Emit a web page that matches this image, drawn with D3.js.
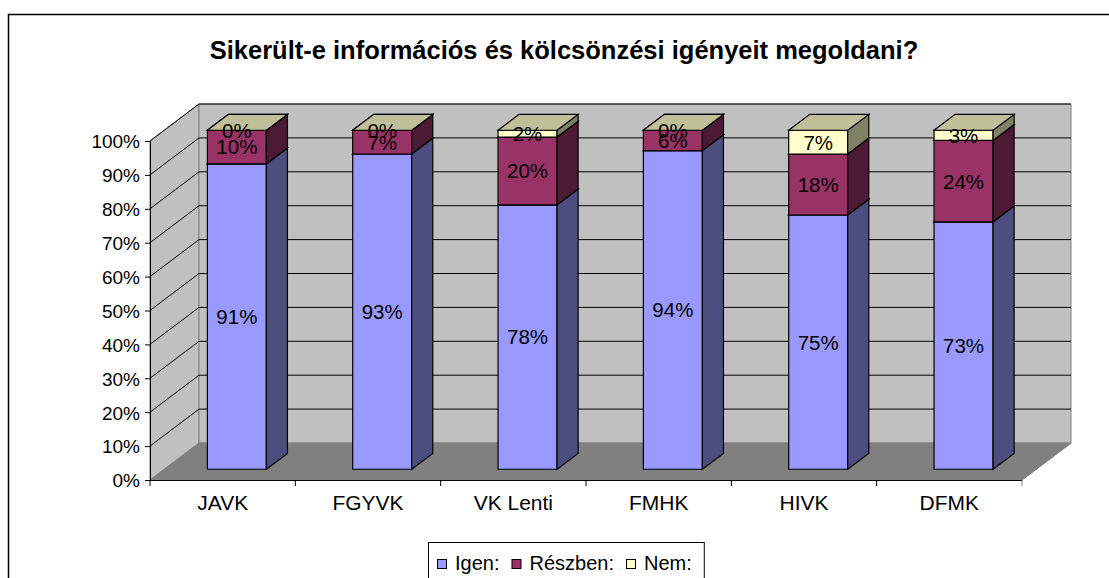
<!DOCTYPE html>
<html>
<head>
<meta charset="utf-8">
<script src="https://cdn.jsdelivr.net/npm/d3@7"></script>
<style>
  body { margin: 0; background: #fff; }
  svg { display: block; font-family: "Liberation Sans", Arial, sans-serif; }
</style>
</head>
<body>
<svg id="chart" width="1109" height="578"></svg>
<script>
// data
const categories = ['JAVK', 'FGYVK', 'VK Lenti', 'FMHK', 'HIVK', 'DFMK'];
const igen = [91, 93, 78, 94, 75, 73];
const reszben = [10, 7, 20, 6, 18, 24];
const nem = [0, 0, 2, 0, 7, 3];
const seriesNames = ['Igen:', 'Részben:', 'Nem:'];
const yTicks = [0, 0.1, 0.2, 0.3, 0.4, 0.5, 0.6, 0.7, 0.8, 0.9, 1];
const title = 'Sikerült-e információs és kölcsönzési igényeit megoldani?';

const front = ['#9999ff', '#993366', '#ffffcc'];
const side = ['#4d4d80', '#4d1a33', '#808066'];
const top_ = ['#7373bf', '#73264d', '#bfbf99'];

const svg = d3.select('#chart');
const left = 150, right = 1022, bottom = 480, topY = 141;
const depthX = 49, depthY = 37; // offset of the back wall
const z0 = 0.29, z1 = 0.72;     // bar depth within the floor

const x = d3.scaleBand().domain(categories).range([left, right]);
const y = d3.scaleLinear().domain([0, 1]).range([bottom, topY]);
const P = (px, py, z) => [px + z * depthX, py - z * depthY];
const poly = pts => 'M' + pts.map(p => p.join(',')).join('L') + 'Z';

// outer frame
svg.append('rect').attr('x', 8.5).attr('y', 14.5).attr('width', 1120).attr('height', 600)
  .attr('fill', 'none').attr('stroke', '#000').attr('stroke-width', 1.5);

svg.append('text').attr('x', 564).attr('y', 59).attr('text-anchor', 'middle')
  .style('font-size', '25.5px').style('font-weight', 'bold').text(title);

// walls
svg.append('path').attr('d', poly([P(left, y(0), 0), P(left, y(0), 1), P(left, y(1), 1), P(left, y(1), 0)]))
  .attr('fill', '#c0c0c0').attr('stroke', '#808080');
svg.append('path').attr('d', poly([P(left, y(0), 1), P(right, y(0), 1), P(right, y(1), 1), P(left, y(1), 1)]))
  .attr('fill', '#c0c0c0').attr('stroke', '#808080');
svg.append('path').attr('d', poly([P(left, y(0), 0), P(right, y(0), 0), P(right, y(0), 1), P(left, y(0), 1)]))
  .attr('fill', '#808080').attr('stroke', '#808080');

// gridlines on side and back wall
yTicks.filter(t => t > 0).forEach(t => {
  const a = P(left, y(t), 0), b = P(left, y(t), 1), c = P(right, y(t), 1);
  svg.append('path').attr('d', `M${a}L${b}L${c}`).attr('fill', 'none').attr('stroke', '#000');
});
svg.append('path').attr('d', `M${P(right, y(0), 0)}L${P(right, y(0), 1)}`).attr('stroke', '#808080');

// axes
const yAxis = d3.axisLeft(y).tickValues(yTicks).tickFormat(d3.format('.0%')).tickSize(5).tickSizeOuter(0).tickPadding(5);
const gy = svg.append('g').attr('transform', `translate(${left},0)`).call(yAxis);
gy.selectAll('text').style('font-size', '19px').attr('fill', '#000').attr('dy', '0.36em');
gy.select('.domain').attr('stroke', '#000');

const xAxis = d3.axisBottom(x).tickSize(0).tickSizeOuter(0);
const gx = svg.append('g').attr('transform', `translate(0,${bottom})`).call(xAxis);
gx.selectAll('text').style('font-size', '21px').attr('fill', '#000').attr('y', 30).attr('dy', 0);
gx.select('.domain').attr('stroke', '#000');
gx.selectAll('.sep').data(categories.concat([''])).join('line').attr('class', 'sep')
  .attr('x1', (d, i) => left + i * x.step()).attr('x2', (d, i) => left + i * x.step())
  .attr('y1', 0).attr('y2', 6).attr('stroke', (d, i) => i === categories.length ? '#808080' : '#000');

// bars
const barW = x.bandwidth() * 0.406;
const bars = svg.append('g');
const labels = [];
categories.forEach((c, i) => {
  const vals = [igen[i], reszben[i], nem[i]];
  const total = d3.sum(vals);
  const x0 = x(c) + x.bandwidth() / 2 - barW / 2, x1 = x0 + barW;
  let acc = 0;
  vals.forEach((v, s) => {
    const lo = y(acc / total), hi = y((acc + v) / total);
    acc += v;
    const fl = P(x0, lo, z0), fr = P(x1, lo, z0), tl = P(x0, hi, z0), tr = P(x1, hi, z0);
    const br = P(x1, lo, z1), brt = P(x1, hi, z1), blt = P(x0, hi, z1);
    bars.append('path').attr('d', poly([fl, fr, tr, tl])).attr('fill', front[s]).attr('stroke', '#000').attr('stroke-width', 1.2);
    bars.append('path').attr('d', poly([fr, br, brt, tr])).attr('fill', side[s]).attr('stroke', '#000').attr('stroke-width', 1.2);
    bars.append('path').attr('d', poly([tl, tr, brt, blt])).attr('fill', top_[s]).attr('stroke', '#000').attr('stroke-width', 1.2);
    labels.push({ x: (fl[0] + fr[0]) / 2, y: (fl[1] + tl[1]) / 2, t: v + '%' });
  });
});
svg.append('g').selectAll('text').data(labels).join('text')
  .attr('x', d => d.x).attr('y', d => d.y).attr('dy', '0.36em').attr('text-anchor', 'middle')
  .style('font-size', '20.5px').text(d => d.t);

// legend
const lg = svg.append('g');
const box = lg.append('rect').attr('x', 428.5).attr('y', 542.5).attr('height', 60)
  .attr('fill', '#fff').attr('stroke', '#000');
let lx = 437;
seriesNames.forEach((n, s) => {
  lg.append('rect').attr('x', lx + 0.5).attr('y', 559.5).attr('width', 9).attr('height', 9)
    .attr('fill', front[s]).attr('stroke', '#000');
  const t = lg.append('text').attr('x', lx + 18).attr('y', 570).style('font-size', '20px').text(n);
  lx += 18 + t.node().getComputedTextLength() + 12;
});
box.attr('width', lx - 428);
</script>
</body>
</html>
